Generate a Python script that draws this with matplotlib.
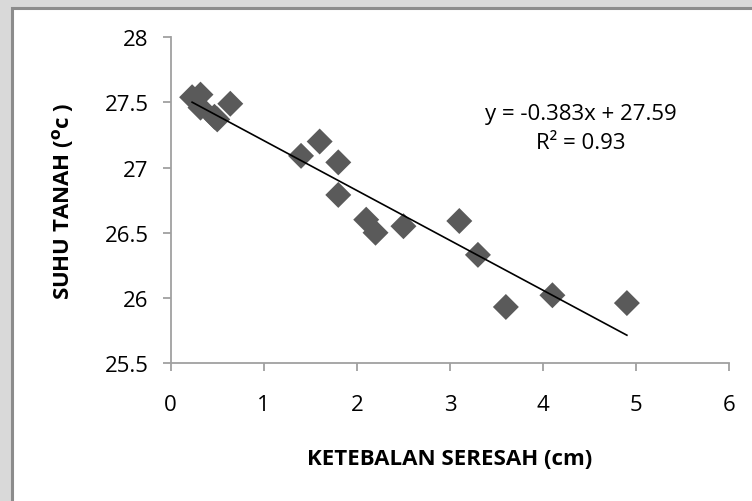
import numpy as np
import matplotlib
matplotlib.use("Agg")
import matplotlib.pyplot as plt
from matplotlib.patches import Rectangle

# litter thickness (cm) vs soil temperature (C)
ketebalan = [0.23, 0.32, 0.32, 0.47, 0.50, 0.64, 1.40, 1.60, 1.80, 1.80,
             2.10, 2.20, 2.50, 3.10, 3.30, 3.60, 4.10, 4.90]
suhu = [27.54, 27.56, 27.46, 27.39, 27.37, 27.49, 27.09, 27.20, 27.04, 26.79,
        26.60, 26.50, 26.55, 26.59, 26.33, 25.93, 26.02, 25.96]

# linear trend as reported
slope = -0.383
intercept = 27.59
r2 = 0.93

x_ticks = [0, 1, 2, 3, 4, 5, 6]
y_ticks = [25.5, 26, 26.5, 27, 27.5, 28]

W, H = 752, 502

plt.rcParams['font.family'] = ['Open Sans', 'DejaVu Sans']

fig = plt.figure(figsize=(W / 100, H / 100), dpi=100)
fig.patch.set_facecolor('#d9d9d9')

# white chart area with grey frame on left/top (runs off the right/bottom edge)
fig.patches.append(Rectangle((12 / W, -0.05), (W - 12) / W + 0.05, (H - 9) / H + 0.05,
                             transform=fig.transFigure, facecolor='white',
                             edgecolor='#8c8c8c', linewidth=2.2, zorder=-5))

ax = fig.add_axes([170.7 / W, (H - 364) / H, 558.6 / W, (364 - 38.3) / H])
ax.set_facecolor('none')
ax.set_zorder(2)

ax.scatter(ketebalan, suhu, marker='D', s=175, color='#5a5a5a',
           edgecolors='none', zorder=3, clip_on=False)

xs = np.array([min(ketebalan), max(ketebalan)])
ax.plot(xs, slope * xs + intercept, color='black', linewidth=1.2, zorder=4)

ax.text(4.405, 27.418, 'y = %.3fx + %.2f' % (slope, intercept),
        ha='center', va='center', fontsize=16)
ax.text(4.405, 27.195, 'R² = %.2f' % r2, ha='center', va='center', fontsize=16)

ax.set_xlim(0, 6)
ax.set_ylim(25.5, 28)
ax.set_xticks(x_ticks)
ax.set_yticks(y_ticks)
ax.set_xticklabels([str(t) for t in x_ticks])
ax.set_yticklabels(['%g' % t for t in y_ticks])

for s in ['top', 'right']:
    ax.spines[s].set_visible(False)
for s in ['left', 'bottom']:
    ax.spines[s].set_color('#a0a0a0')
    ax.spines[s].set_linewidth(1.3)

ax.tick_params(axis='both', length=6, width=1.3, color='#a0a0a0',
               labelsize=16, labelcolor='black')
ax.tick_params(axis='x', pad=16)
ax.tick_params(axis='y', pad=10)

ax.set_xlabel('KETEBALAN SERESAH (cm)', fontsize=16, fontweight='bold', va='center')
ax.xaxis.set_label_coords(0.5, (364 - 460) / 325.7)
ax.set_ylabel(r'SUHU TANAH ($\mathbf{^o}$c )', fontsize=16, fontweight='bold', va='center')
ax.yaxis.set_label_coords((63 - 170.7) / 558.6, 0.5)

fig.savefig('out.png', dpi=100, facecolor=fig.get_facecolor())
